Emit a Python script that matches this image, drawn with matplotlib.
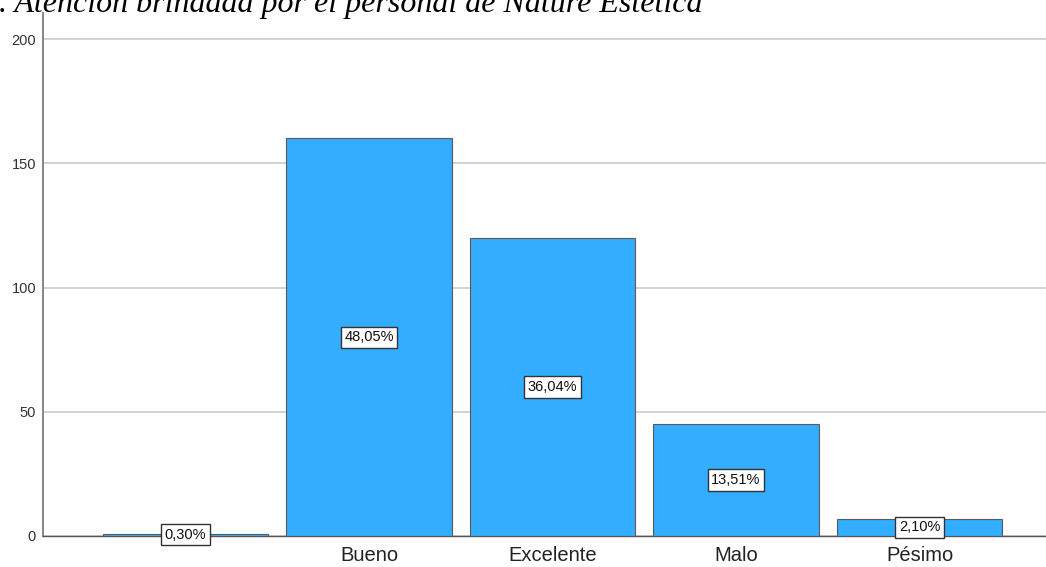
import matplotlib.pyplot as plt

categories = ['', 'Bueno', 'Excelente', 'Malo', 'Pésimo']
counts = [1, 160, 120, 45, 7]
pct_labels = ['0,30%', '48,05%', '36,04%', '13,51%', '2,10%']
y_ticks = [0, 50, 100, 150, 200]

plt.rcParams['font.family'] = ['Liberation Sans', 'DejaVu Sans']

fig = plt.figure(figsize=(10.46, 5.67), dpi=100)
ax = fig.add_axes([0.0411, 0.0547, 0.9589, 0.9224])

x = list(range(len(categories)))
ax.bar(x, counts, width=0.9, color='#33adff', edgecolor='#5a5a5a',
       linewidth=0.8, zorder=3)

for xi, c, lab in zip(x, counts, pct_labels):
    ax.text(xi, c / 2, lab, ha='center', va='center', fontsize=10.5,
            color='#111111', zorder=5,
            bbox=dict(boxstyle='square,pad=0.25', facecolor='white',
                      edgecolor='#333333', linewidth=1.0))

ax.set_xlim(-0.776, 4.689)
ax.set_ylim(0, 210.5)
ax.set_yticks(y_ticks)
ax.set_xticks(x)
ax.set_xticklabels(categories, fontsize=14.5, color='#222222')
ax.tick_params(axis='y', length=0, labelsize=10.5, colors='#333333', pad=5)
ax.tick_params(axis='x', length=0, pad=7)
ax.yaxis.grid(True, color='#d0d0d0', linewidth=1.3, zorder=0)

for side in ['top', 'right']:
    ax.spines[side].set_visible(False)
ax.spines['left'].set_color('#8a8a8a')
ax.spines['left'].set_linewidth(1.5)
ax.spines['bottom'].set_color('#555555')
ax.spines['bottom'].set_linewidth(1.0)
ax.set_axisbelow(True)

# caption sitting at the top edge, mostly cut off
fig.text(-0.001, 0.978, '. Atención brindada por el personal de Nature Estética',
         fontsize=23, style='italic', family=['Liberation Serif', 'DejaVu Serif'],
         ha='left', va='baseline', color='black')

fig.savefig('out.png', dpi=100)
